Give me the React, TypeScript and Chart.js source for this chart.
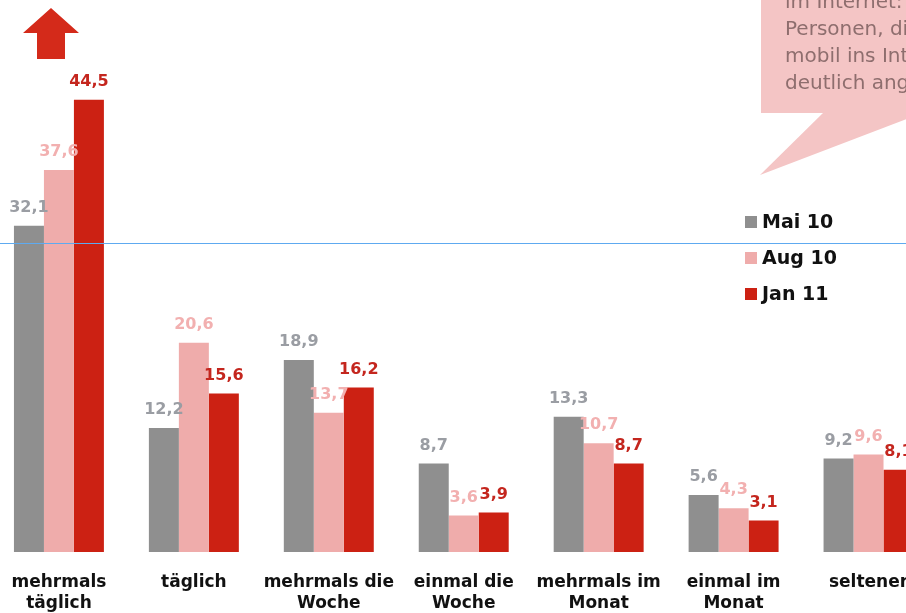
import React, { useEffect, useRef } from "react";
import { Chart, registerables } from "chart.js";

Chart.register(...registerables);

// ---- data ----
const categories: string[][] = [
  ["mehrmals", "täglich"],
  ["täglich"],
  ["mehrmals die", "Woche"],
  ["einmal die", "Woche"],
  ["mehrmals im", "Monat"],
  ["einmal im", "Monat"],
  ["seltener"],
];
const seriesNames = ["Mai 10", "Aug 10", "Jan 11"];
const mai10 = [32.1, 12.2, 18.9, 8.7, 13.3, 5.6, 9.2];
const aug10 = [37.6, 20.6, 13.7, 3.6, 10.7, 4.3, 9.6];
const jan11 = [44.5, 15.6, 16.2, 3.9, 8.7, 3.1, 8.1];
const calloutLines = [
  "im Internet: Die Zahl der",
  "Personen, die täglich",
  "mobil ins Internet gehen,",
  "deutlich angestiegen.",
];

// ---- styles ----
const barColors = ["#8f8f8f", "#efacab", "#cc2113"];
const labelColors = ["#9a9da3", "#f2b0b0", "#c4261e"];
const FONT = "'DejaVu Sans', Verdana, sans-serif";
const OFF = 9; // canvas is shifted 9px to the left of the page

const overlayPlugin = {
  id: "overlay",
  afterDatasetsDraw(chart: any) {
    const ctx = chart.ctx as CanvasRenderingContext2D;
    ctx.save();
    ctx.font = `bold 16px ${FONT}`;
    ctx.textAlign = "center";
    ctx.textBaseline = "middle";
    chart.data.datasets.forEach((ds: any, di: number) => {
      const meta = chart.getDatasetMeta(di);
      meta.data.forEach((el: any, i: number) => {
        const v = ds.data[i] as number;
        const txt = v.toFixed(1).replace(".", ",");
        ctx.fillStyle = labelColors[di];
        ctx.fillText(txt, el.x, el.y - 18);
      });
    });
    ctx.restore();
  },
  afterDraw(chart: any) {
    const ctx = chart.ctx as CanvasRenderingContext2D;
    const W = chart.width;
    ctx.save();
    // blue guide line
    ctx.fillStyle = "#5eaaf0";
    ctx.fillRect(0, 243, W, 1);

    // red arrow
    ctx.fillStyle = "#d42a1a";
    ctx.beginPath();
    ctx.moveTo(51 + OFF, 8);
    ctx.lineTo(79 + OFF, 33);
    ctx.lineTo(65 + OFF, 33);
    ctx.lineTo(65 + OFF, 59);
    ctx.lineTo(37 + OFF, 59);
    ctx.lineTo(37 + OFF, 33);
    ctx.lineTo(23 + OFF, 33);
    ctx.closePath();
    ctx.fill();

    // callout bubble
    ctx.fillStyle = "#f4c5c5";
    ctx.fillRect(761 + OFF, -5, 200, 118);
    ctx.beginPath();
    ctx.moveTo(824 + OFF, 112);
    ctx.lineTo(760 + OFF, 175);
    ctx.lineTo(925 + OFF, 112);
    ctx.closePath();
    ctx.fill();
    ctx.fillStyle = "#8e6e6e";
    ctx.font = `20px ${FONT}`;
    ctx.textAlign = "left";
    ctx.textBaseline = "alphabetic";
    calloutLines.forEach((line, i) => {
      ctx.fillText(line, 785 + OFF, 8 + i * 27);
    });

    // legend
    ctx.font = `bold 19px ${FONT}`;
    const baselines = [228, 264, 300];
    chart.data.datasets.forEach((ds: any, di: number) => {
      ctx.fillStyle = ds.backgroundColor;
      ctx.fillRect(745 + OFF, baselines[di] - 12, 12, 12);
      ctx.fillStyle = "#111";
      ctx.fillText(ds.label, 762 + OFF, baselines[di]);
    });
    ctx.restore();
  },
};

export default function App() {
  const ref = useRef<HTMLCanvasElement | null>(null);
  useEffect(() => {
    if (!ref.current) return;
    const series = [mai10, aug10, jan11];
    const chart = new Chart(ref.current, {
      type: "bar",
      data: {
        labels: categories,
        datasets: series.map((d, i) => ({
          label: seriesNames[i],
          data: d,
          backgroundColor: barColors[i],
          borderWidth: 0,
          categoryPercentage: 90 / 135,
          barPercentage: 1,
        })),
      },
      options: {
        responsive: false,
        animation: false,
        devicePixelRatio: 1,
        layout: { padding: 0 },
        plugins: {
          legend: { display: false },
          tooltip: { enabled: false },
        },
        scales: {
          x: {
            grid: { display: false, drawTicks: false },
            border: { display: false },
            ticks: {
              autoSkip: false,
              maxRotation: 0,
              minRotation: 0,
              padding: 20.5,
              color: "#111",
              font: { family: FONT, size: 17, weight: "bold", lineHeight: 21 / 17 },
            },
            afterFit: (s: any) => {
              s.height = 61;
            },
          },
          y: {
            display: false,
            min: 0,
            max: 54.33,
          },
        },
      },
      plugins: [overlayPlugin],
    } as any);
    return () => chart.destroy();
  }, []);
  return (
    <div
      style={{
        position: "fixed",
        left: 0,
        top: 0,
        width: 906,
        height: 613,
        overflow: "hidden",
        background: "#fff",
      }}
    >
      <canvas
        ref={ref}
        width={945}
        height={613}
        style={{ position: "absolute", left: -OFF, top: 0, width: 945, height: 613 }}
      />
    </div>
  );
}
